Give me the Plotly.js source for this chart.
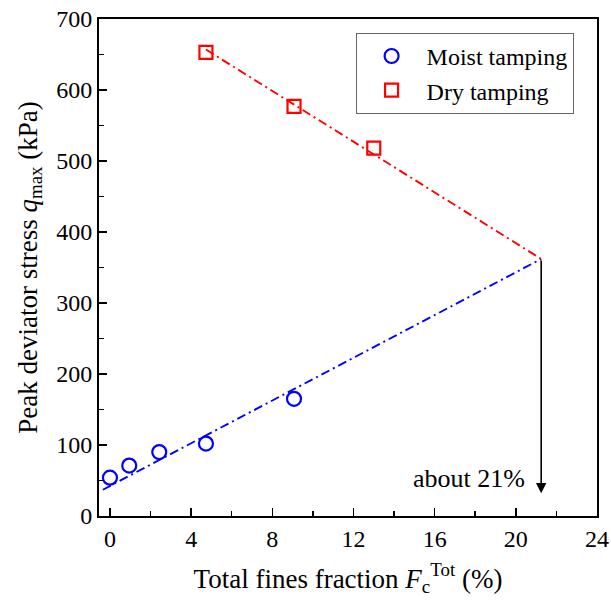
<!DOCTYPE html>
<html><head><meta charset="utf-8">
<script src="https://cdn.plot.ly/plotly-3.0.1.min.js"></script>
<style>body{margin:0;background:#fff}#c{width:611px;height:610px}</style>
</head><body><div id="c"></div>
<script>
const moistX = [0, 0.95, 2.43, 4.73, 9.07];
const moistY = [54, 71, 90, 102, 165];
const dryX = [4.73, 9.07, 13.0];
const dryY = [653, 577, 518];
const moistFitX = [-0.35, 21.25];
const moistFitY = [37, 362];
const dryFitX = [4.73, 21.25];
const dryFitY = [657, 362];
const arrowX = 21.25, arrowTopY = 362, arrowTipY = 32;
const xTicks = [0, 4, 8, 12, 16, 20, 24];
const yTicks = [0, 100, 200, 300, 400, 500, 600, 700];

const F = "'Liberation Serif', 'Times New Roman', Times, serif";
const traces = [
  {x: moistFitX, y: moistFitY, mode: 'lines', line: {color: '#0000ff', width: 1.9, dash: '9px,4px,2px,4px'}, showlegend: false, hoverinfo: 'skip'},
  {x: dryFitX, y: dryFitY, mode: 'lines', line: {color: '#ff0000', width: 1.9, dash: '9px,4px,2px,4px'}, showlegend: false, hoverinfo: 'skip'},
  {x: moistX, y: moistY, mode: 'markers', name: 'Moist tamping',
   marker: {symbol: 'circle-open', size: 14, color: '#0000ff', line: {width: 2.2, color: '#0000ff'}}},
  {x: dryX, y: dryY, mode: 'markers', name: 'Dry tamping',
   marker: {symbol: 'square-open', size: 13, color: '#ff0000', line: {width: 2.2, color: '#ff0000'}}}
];
const axisCommon = {
  showline: true, linecolor: '#000', linewidth: 2, mirror: true,
  ticks: 'inside', ticklen: 8, tickwidth: 1.5, tickcolor: '#000',
  showgrid: false, zeroline: false,
  tickfont: {family: F, size: 24, color: '#000'}
};
const layout = {
  width: 611, height: 610,
  font: {family: F, color: '#000'},
  margin: {l: 99, r: 14, t: 19, b: 94},
  paper_bgcolor: '#fff', plot_bgcolor: '#fff',
  xaxis: Object.assign({}, axisCommon, {
    range: [-0.54, 24], tickvals: xTicks, ticktext: xTicks.map(String),
    minor: {dtick: 2, tick0: 0, ticks: 'inside', ticklen: 5, tickwidth: 1.5, tickcolor: '#000'},
    title: {text: 'Total fines fraction <i>F</i><sub>c</sub><sup>Tot</sup> (%)', font: {family: F, size: 27, color: '#000'}, standoff: 18}
  }),
  yaxis: Object.assign({}, axisCommon, {
    range: [0, 700], tickvals: yTicks, ticktext: yTicks.map(String),
    minor: {dtick: 50, tick0: 0, ticks: 'inside', ticklen: 5, tickwidth: 1.5, tickcolor: '#000'},
    title: {text: 'Peak deviator stress <i>q</i><sub>max</sub> (kPa)', font: {family: F, size: 27, color: '#000'}, standoff: 11}
  }),
  legend: {x: 0.953, y: 0.972, xanchor: 'right', yanchor: 'top', bgcolor: '#fff',
    bordercolor: '#666', borderwidth: 1, itemwidth: 60, tracegroupgap: 0,
    font: {family: F, size: 24, color: '#000'}},
  showlegend: true,
  annotations: [
    {x: arrowX, y: arrowTipY, ax: arrowX, ay: arrowTopY, xref: 'x', yref: 'y', axref: 'x', ayref: 'y',
     showarrow: true, arrowhead: 2, arrowsize: 1.3, arrowwidth: 1.6, arrowcolor: '#000', text: ''},
    {x: 20.55, y: 53, xref: 'x', yref: 'y', xanchor: 'right', yanchor: 'middle', showarrow: false,
     text: 'about 21%', font: {family: F, size: 26, color: '#000'}}
  ]
};
Plotly.newPlot('c', traces, layout, {displayModeBar: false, staticPlot: true});
</script></body></html>
